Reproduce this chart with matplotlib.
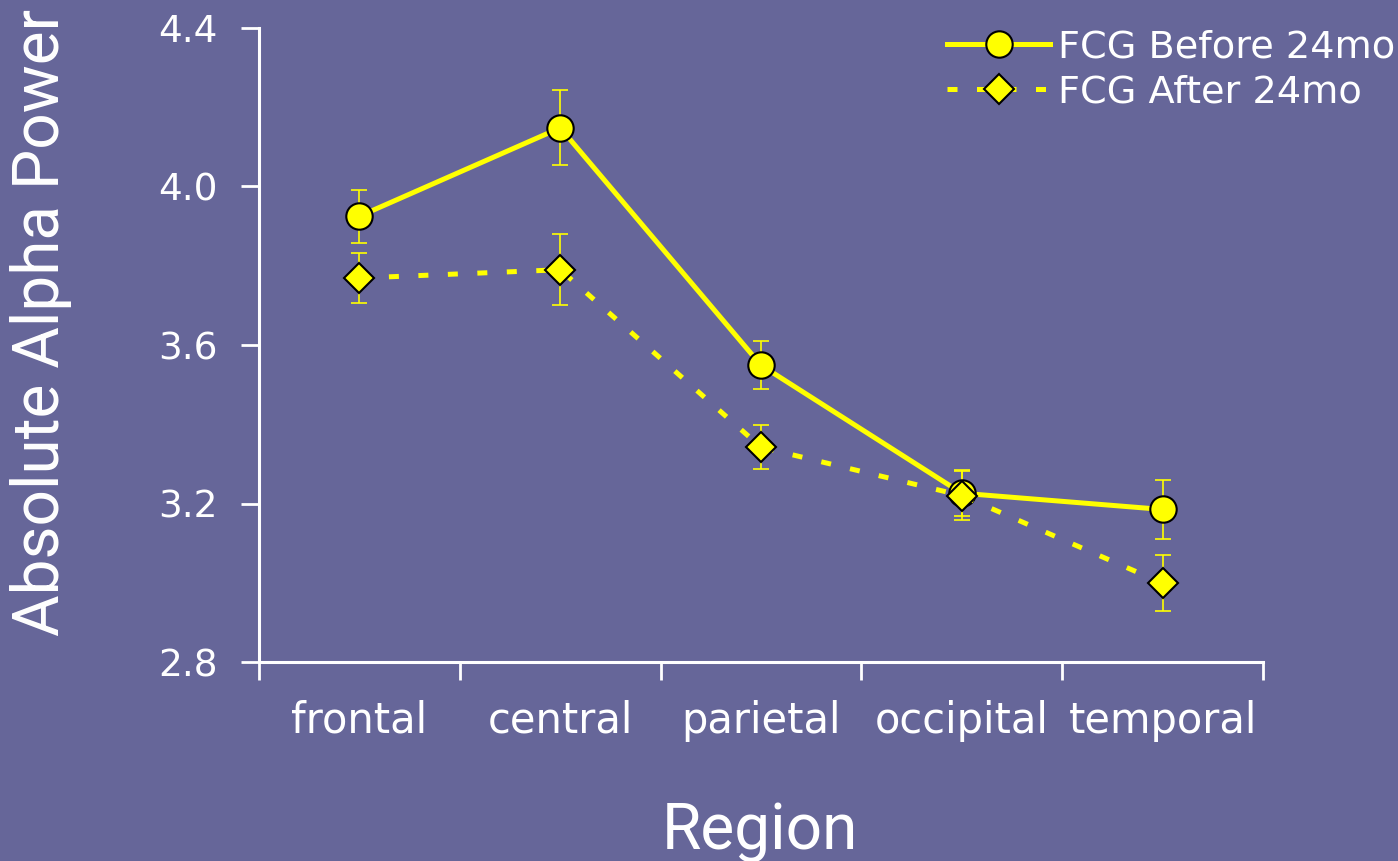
import matplotlib
matplotlib.use("Agg")
import matplotlib.pyplot as plt
import numpy as np

# absolute alpha power by scalp region, two age groups
regions = ["frontal", "central", "parietal", "occipital", "temporal"]
before_24mo = [3.925, 4.148, 3.549, 3.226, 3.185]
before_err = [0.067, 0.095, 0.060, 0.058, 0.075]
after_24mo = [3.769, 3.790, 3.342, 3.220, 2.999]
after_err = [0.062, 0.090, 0.055, 0.062, 0.070]
y_ticks = [2.8, 3.2, 3.6, 4.0, 4.4]

bg = "#666699"
yellow = "#ffff00"

plt.rcParams["font.family"] = ["DejaVu Sans"]
big_font = ["Roboto", "DejaVu Sans"]

fig = plt.figure(figsize=(13.98, 8.61), dpi=100, facecolor=bg)
ax = fig.add_axes([0.1853, 0.2311, 0.7181, 0.7364], facecolor=bg)

x = np.arange(len(regions))

# error bars first, then the lines with markers on top
ax.errorbar(x, before_24mo, yerr=before_err, fmt="none", ecolor=yellow,
            elinewidth=1.2, capsize=6, capthick=1.2, zorder=2)
ax.errorbar(x, after_24mo, yerr=after_err, fmt="none", ecolor=yellow,
            elinewidth=1.2, capsize=6, capthick=1.2, zorder=2)

ax.plot(x, before_24mo, color=yellow, lw=3.6, marker="o", markersize=19,
        markerfacecolor=yellow, markeredgecolor="black", markeredgewidth=1.5,
        label="FCG Before 24mo", zorder=3)
ax.plot(x, after_24mo, color=yellow, lw=3.6, linestyle=(0, (2.0, 3.9)),
        marker="D", markersize=15, markerfacecolor=yellow,
        markeredgecolor="black", markeredgewidth=1.5,
        label="FCG After 24mo", zorder=4)

ax.set_xlim(-0.5, len(regions) - 0.5)
ax.set_ylim(2.8, 4.4)

# boundary ticks on x, category names centred between them
ax.set_xticks(np.arange(-0.5, len(regions), 1.0))
ax.set_xticklabels([])
ax.set_xticks(x, minor=True)
ax.set_xticklabels(regions, minor=True)
ax.tick_params(axis="x", which="major", direction="out", length=13,
               width=2, color="white")
ax.tick_params(axis="x", which="minor", length=0, pad=27,
               labelsize=30, labelcolor="white")

ax.set_yticks(y_ticks)
ax.set_yticklabels([f"{v:.1f}" for v in y_ticks])
ax.tick_params(axis="y", direction="out", length=13, width=2, color="white",
               pad=17, labelsize=27, labelcolor="white")

for side in ["top", "right"]:
    ax.spines[side].set_visible(False)
for side in ["left", "bottom"]:
    ax.spines[side].set_color("white")
    ax.spines[side].set_linewidth(2.2)

ax.set_ylabel("Absolute Alpha Power", fontsize=46, color="white",
              family=big_font)
ax.yaxis.set_label_coords(-0.186, 0.536)
ax.set_xlabel("Region", fontsize=46, color="white", family=big_font)
ax.xaxis.set_label_coords(0.499, -0.219)

leg = ax.legend(loc="upper right", bbox_to_anchor=(0.998, 0.966),
                bbox_transform=fig.transFigure, frameon=False,
                fontsize=27.5, handlelength=2.7, handletextpad=0.2,
                labelspacing=0.25, borderaxespad=0, borderpad=0)
for t in leg.get_texts():
    t.set_color("white")

fig.savefig("out.png", dpi=100, facecolor=bg)
